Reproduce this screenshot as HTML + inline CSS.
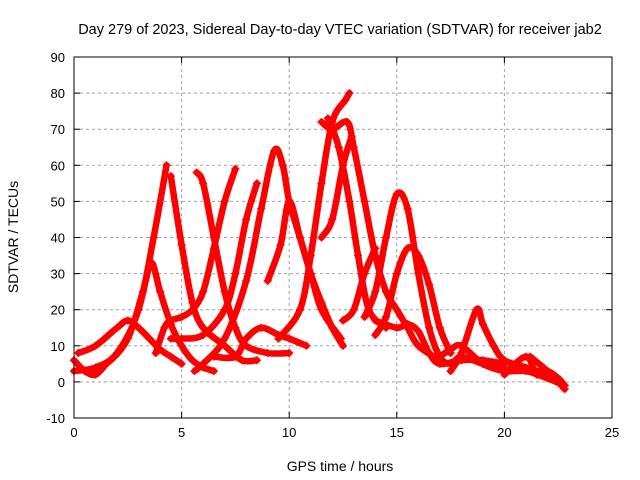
<!DOCTYPE html>
<html><head><meta charset="utf-8"><style>
body{margin:0;background:#fff}
svg{display:block;font-family:"Liberation Sans",sans-serif}
</style></head><body>
<svg id="c" width="640" height="480"></svg>
<script>
const xTicks=[0,5,10,15,20,25];
const yTicks=[-10,0,10,20,30,40,50,60,70,80,90];
const track1=[[0.2,8],[1,10],[2,15],[2.5,17],[3,15],[3.5,12],[4,9],[4.5,7],[5,5]];
const track2=[[0.5,3],[1.5,5],[2.5,12],[3.2,25],[3.6,33],[4,25],[4.5,16],[5,10],[5.5,6],[6,4],[6.5,3]];
const track3=[[0,3],[1,4],[2,8],[3,20],[3.7,40],[4.3,60]];
const track4=[[4.5,57],[5,38],[5.5,22],[6,15],[7,10],[7.8,6],[8.5,6]];
const track5=[[3.8,8],[4.2,15],[4.5,17],[5,18],[5.5,20],[6,25],[6.5,37],[7,50],[7.5,59]];
const track6=[[5.7,58],[6,55],[6.5,40],[7,25],[7.5,15],[8,10],[9,8],[10,8]];
const track7=[[5.6,3],[6,5],[7,12],[8,28],[8.7,48],[9.3,64],[9.7,60],[10,50],[10.5,40],[11,30],[11.5,22],[12,15],[12.5,10]];
const track8=[[4.5,12],[5,12],[6,13],[7,20],[7.5,30],[8,45],[8.5,55]];
const track9=[[6.5,7],[7.5,7],[8,12],[8.7,15],[9.5,13],[10,12],[10.8,10]];
const track10=[[9,28],[9.6,38],[10,50],[10.5,40],[11,30],[11.5,20],[12.4,12]];
const track11=[[9.5,12],[10.5,20],[11,35],[11.5,55],[12,72],[12.6,78],[12.8,80]];
const track12=[[11.8,73],[12.3,65],[12.8,50],[13.2,35],[13.7,20],[14.5,15]];
const track13=[[11.5,72],[12,70],[12.7,72],[13,65],[13.5,50],[14,35],[14.5,25],[15,20],[15.5,15],[16,10],[17,6]];
const track14=[[11.5,40],[12,45],[12.5,60],[12.9,68]];
const track15=[[12.5,17],[13,20],[13.5,30],[14,37]];
const track16=[[13.5,18],[14,25],[14.5,40],[15,52],[15.5,48],[16,30],[16.5,15],[17,7],[17.5,5],[18,7],[19,5],[20,4]];
const track17=[[14,13],[14.5,18],[15,30],[15.5,37],[16,35],[16.5,27],[17,15],[17.5,8]];
const track18=[[14,17],[15,15],[15.5,16],[16,14],[16.5,8],[17,5],[18,6],[19,6],[20,5]];
const track19=[[17.5,3],[18,8],[18.7,20],[19,16],[19.5,10],[20,6],[21,4],[22,2],[22.5,0]];
const track20=[[17,7],[17.5,9],[18,10],[19,5],[20,3],[21,3],[22,1],[22.8,-1]];
const track21=[[20,2],[21,7],[21.5,2],[22,3],[22.5,1],[22.8,-1]];
const track22=[[21.2,7],[22,3],[22.5,0],[22.8,-2]];
const track23=[[0,6],[0.5,3],[1,2],[1.5,5]];
const tracks=[track1,track2,track3,track4,track5,track6,track7,track8,track9,track10,track11,track12,track13,track14,track15,track16,track17,track18,track19,track20,track21,track22,track23];

const L=74,R=612,T=57,B=418,xmin=0,xmax=25,ymin=-10,ymax=90;
const X=v=>L+(v-xmin)/(xmax-xmin)*(R-L);
const Y=v=>B-(v-ymin)/(ymax-ymin)*(B-T);
const NS="http://www.w3.org/2000/svg";
const svg=document.getElementById('c');
function mk(tag,at,parent){const e=document.createElementNS(NS,tag);for(const k in at)e.setAttribute(k,at[k]);(parent||svg).appendChild(e);return e;}
function smooth(pts){
  let d=`M${pts[0][0]},${pts[0][1]}`;
  for(let i=0;i<pts.length-1;i++){
    const p0=pts[Math.max(i-1,0)],p1=pts[i],p2=pts[i+1],p3=pts[Math.min(i+2,pts.length-1)];
    const c1=[p1[0]+(p2[0]-p0[0])/6,p1[1]+(p2[1]-p0[1])/6];
    const c2=[p2[0]-(p3[0]-p1[0])/6,p2[1]-(p3[1]-p1[1])/6];
    d+=`C${c1[0]},${c1[1]} ${c2[0]},${c2[1]} ${p2[0]},${p2[1]}`;
  }
  return d;
}

const grid=mk('g',{});


xTicks.forEach(t=>{
  if(t>xmin&&t<xmax)mk('line',{x1:X(t),x2:X(t),y1:T,y2:B,stroke:'#a0a0a0','stroke-dasharray':'3,3','stroke-width':1},grid);
  const tx=mk('text',{x:X(t),y:B+19,'text-anchor':'middle','font-size':13,fill:'#000'});
  tx.textContent=t;
  
  
  mk('line',{x1:X(t),x2:X(t),y1:B,y2:B-6,stroke:'#000'});
  mk('line',{x1:X(t),x2:X(t),y1:T,y2:T+6,stroke:'#000'});
});
yTicks.forEach(t=>{
  if(t>ymin&&t<ymax)mk('line',{x1:L,x2:R,y1:Y(t),y2:Y(t),stroke:'#a0a0a0','stroke-dasharray':'3,3','stroke-width':1},grid);
  const tx=mk('text',{x:L-9,y:Y(t)+5,'text-anchor':'end','font-size':13,fill:'#000'});
  tx.textContent=t;
  
  
  mk('line',{x1:L,x2:L+6,y1:Y(t),y2:Y(t),stroke:'#000'});
  mk('line',{x1:R,x2:R-6,y1:Y(t),y2:Y(t),stroke:'#000'});
});

const series=mk('g',{});


tracks.forEach(tr=>{
  const pts=tr.map(d=>[X(d[0]),Y(d[1])]);
  const p=mk('path',{d:smooth(pts),fill:'none',stroke:'#ff0000','stroke-width':6.5,'stroke-linejoin':'round','stroke-linecap':'round'},series);
  
  
  pts.forEach(([x,y])=>{
    const m=mk('path',{d:`M${x-4},${y}H${x+4}M${x},${y-4}V${y+4}`,stroke:'#ff0000','stroke-width':1.5},series);
    
    
  });
});

const frame=mk('rect',{x:L,y:T,width:R-L,height:B-T,fill:'none',stroke:'#000','stroke-width':1});



const title=mk('text',{x:340,y:34,'text-anchor':'middle','font-size':14.5,fill:'#000'});
title.textContent='Day 279 of 2023, Sidereal Day-to-day VTEC variation (SDTVAR) for receiver jab2';


const xl=mk('text',{x:340,y:471,'text-anchor':'middle','font-size':14,fill:'#000'});
xl.textContent='GPS time / hours';


const yl=mk('text',{x:18,y:237,'text-anchor':'middle','font-size':14,fill:'#000',transform:'rotate(-90 18 237)'});
yl.textContent='SDTVAR / TECUs';


</script>
</body></html>
